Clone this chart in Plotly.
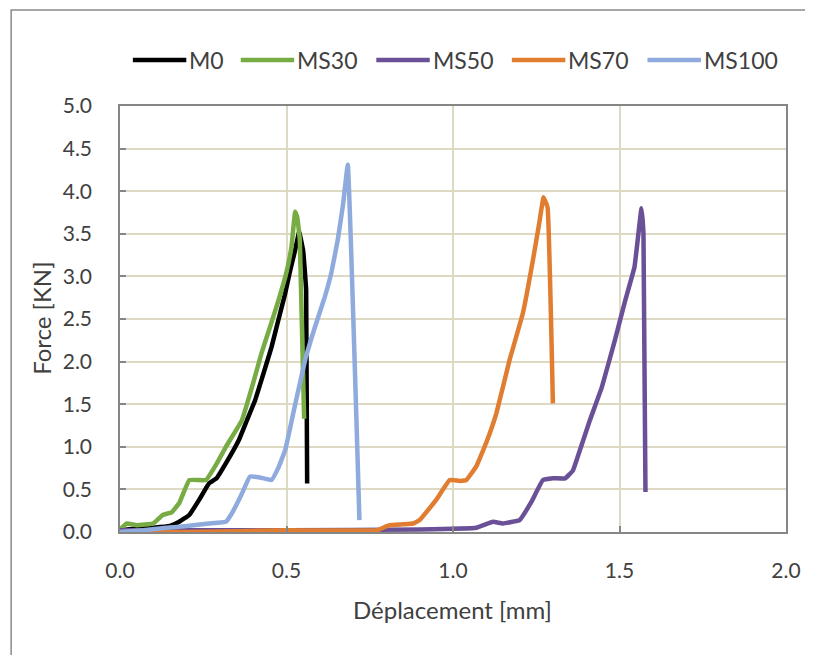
import plotly.graph_objects as go

# ---------------- data ----------------
series_names = ["M0", "MS30", "MS50", "MS70", "MS100"]

m0_x = [0, 0.05, 0.10, 0.15, 0.178, 0.208, 0.238, 0.267, 0.29, 0.32, 0.357, 0.38, 0.406, 0.43, 0.455, 0.475, 0.496, 0.51, 0.526, 0.538, 0.55, 0.559, 0.562]
m0_y = [0.02, 0.04, 0.05, 0.07, 0.12, 0.2, 0.38, 0.57, 0.63, 0.82, 1.08, 1.3, 1.55, 1.85, 2.17, 2.48, 2.8, 3.05, 3.31, 3.52, 3.3, 2.84, 0.57]

ms30_x = [0, 0.02, 0.05, 0.10, 0.128, 0.155, 0.178, 0.208, 0.258, 0.29, 0.318, 0.366, 0.40, 0.425, 0.45, 0.476, 0.50, 0.515, 0.526, 0.532, 0.54, 0.553]
ms30_y = [0.03, 0.1, 0.08, 0.1, 0.2, 0.23, 0.34, 0.61, 0.61, 0.8, 1.0, 1.31, 1.75, 2.1, 2.4, 2.72, 3.05, 3.35, 3.76, 3.7, 3.43, 1.33]

ms50_x = [0, 0.5, 0.9, 1.07, 1.12, 1.15, 1.2, 1.235, 1.27, 1.30, 1.337, 1.36, 1.376, 1.41, 1.447, 1.486, 1.516, 1.545, 1.566, 1.572, 1.578]
ms50_y = [0.02, 0.02, 0.03, 0.05, 0.12, 0.1, 0.14, 0.35, 0.61, 0.63, 0.63, 0.72, 0.9, 1.3, 1.7, 2.25, 2.7, 3.11, 3.8, 3.5, 0.47]

ms70_x = [0, 0.2, 0.5, 0.773, 0.79, 0.81, 0.85, 0.88, 0.9, 0.95, 0.99, 1.02, 1.04, 1.07, 1.10, 1.13, 1.17, 1.21, 1.24, 1.26, 1.272, 1.284, 1.30]
ms70_y = [0, 0.0, 0.02, 0.02, 0.05, 0.08, 0.09, 0.1, 0.14, 0.38, 0.61, 0.6, 0.61, 0.77, 1.05, 1.39, 2.02, 2.57, 3.19, 3.65, 3.93, 3.81, 1.51]

ms100_x = [0, 0.07, 0.14, 0.2, 0.267, 0.318, 0.336, 0.366, 0.39, 0.42, 0.455, 0.475, 0.496, 0.525, 0.556, 0.585, 0.615, 0.635, 0.654, 0.67, 0.684, 0.719]
ms100_y = [0, 0.02, 0.05, 0.07, 0.1, 0.12, 0.22, 0.45, 0.65, 0.64, 0.61, 0.75, 0.96, 1.48, 2.02, 2.4, 2.76, 3.05, 3.43, 3.85, 4.31, 0.14]

x_ticks = [0.0, 0.5, 1.0, 1.5, 2.0]
y_ticks = [0.0, 0.5, 1.0, 1.5, 2.0, 2.5, 3.0, 3.5, 4.0, 4.5, 5.0]
x_title = "Déplacement [mm]"
y_title = "Force [KN]"

# ---------------- styling ----------------
colors = ["#000000", "#77AB43", "#6A5096", "#E07D31", "#8FAADC"]
xs = [m0_x, ms30_x, ms50_x, ms70_x, ms100_x]
ys = [m0_y, ms30_y, ms50_y, ms70_y, ms100_y]

FONT = "Lato"
TXT = "#404040"
FS_TICK = 21
FS_TITLE = 24
FS_LEG = 23
OFF = 8  # page body margin
W, H = 813 - OFF, 655 - OFF
L, R, T, B = 120 - OFF, 20, 106 - OFF, 123
pw, ph = W - L - R, H - T - B


def px2x(px):
    return (px - OFF - L) / pw


def py2y(py):
    return (H - B - (py - OFF)) / ph


fig = go.Figure()
for name, x, y, c in zip(series_names, xs, ys, colors):
    fig.add_trace(go.Scatter(x=x, y=y, mode="lines", name=name,
                             line=dict(color=c, width=4.5, shape="spline", smoothing=0.25),
                             showlegend=False))

# custom legend (line + label)
leg_line_start = [133, 242, 379, 516, 653]
leg_len = 54
leg_y = 60
shapes = []
annotations = []
for name, c, sx in zip(series_names, colors, leg_line_start):
    shapes.append(dict(type="line", xref="paper", yref="paper",
                       x0=px2x(sx), x1=px2x(sx + leg_len), y0=py2y(leg_y), y1=py2y(leg_y),
                       line=dict(color=c, width=4.5)))
    annotations.append(dict(text=name, xref="paper", yref="paper",
                            x=px2x(sx + leg_len + 1), y=py2y(leg_y), xanchor="left", yanchor="middle",
                            showarrow=False, font=dict(family=FONT, size=FS_LEG, color=TXT)))

# outer chart border
shapes.append(dict(type="rect", xref="paper", yref="paper",
                   x0=px2x(10), x1=px2x(813 + 5), y0=py2y(655 + 5), y1=py2y(10),
                   line=dict(color="#898989", width=1.5), fillcolor="rgba(0,0,0,0)", layer="below"))

# axis titles
annotations.append(dict(text=x_title, xref="paper", yref="paper", x=px2x(456), y=py2y(609),
                        xanchor="center", yanchor="middle", showarrow=False,
                        font=dict(family=FONT, size=FS_TITLE, color=TXT)))
annotations.append(dict(text=y_title, xref="paper", yref="paper", x=px2x(40), y=py2y(318),
                        xanchor="center", yanchor="middle", showarrow=False, textangle=-90,
                        font=dict(family=FONT, size=FS_TITLE, color=TXT)))

axis_common = dict(showline=True, linecolor="#868686", linewidth=1.5, mirror=True,
                   ticks="inside", ticklen=6, tickcolor="#868686", tickwidth=1.5,
                   showgrid=True, gridcolor="#DDD9C3", gridwidth=1.5, zeroline=False,
                   tickfont=dict(family=FONT, size=FS_TICK, color=TXT))

fig.update_layout(
    width=W, height=H,
    margin=dict(l=L, r=R, t=T, b=B),
    paper_bgcolor="white", plot_bgcolor="white",
    shapes=shapes, annotations=annotations,
    xaxis=dict(range=[0, 2], tickvals=x_ticks, ticktext=[f"{v:.1f}" for v in x_ticks],
               ticklabelstandoff=19, **axis_common),
    yaxis=dict(range=[0, 5], tickvals=y_ticks, ticktext=[f"{v:.1f}" for v in y_ticks],
               ticklabelstandoff=22, **axis_common),
)

fig.write_html("out.html")
